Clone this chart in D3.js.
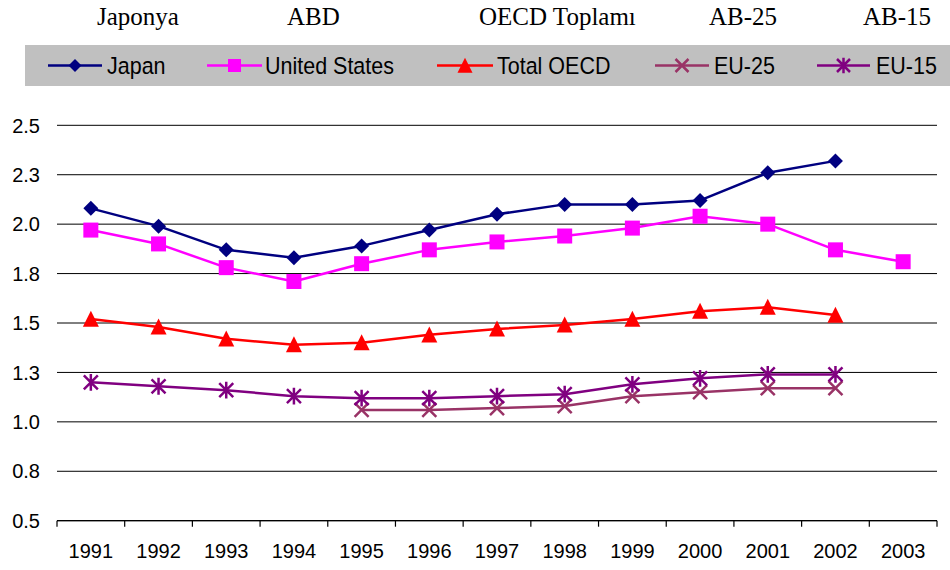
<!DOCTYPE html>
<html>
<head>
<meta charset="utf-8">
<script src="https://cdn.jsdelivr.net/npm/d3@7"></script>
<style>
  html, body { margin: 0; padding: 0; background: #fff; }
  svg { display: block; }
</style>
</head>
<body>
<svg id="chart" width="950" height="570"></svg>
<script>
const years = ["1991","1992","1993","1994","1995","1996","1997","1998","1999","2000","2001","2002","2003"];
const japan = [2.08,1.99,1.87,1.83,1.89,1.97,2.05,2.10,2.10,2.12,2.26,2.32,null];
const unitedStates = [1.97,1.90,1.78,1.71,1.80,1.87,1.91,1.94,1.98,2.04,2.00,1.87,1.81];
const totalOECD = [1.52,1.48,1.42,1.39,1.40,1.44,1.47,1.49,1.52,1.56,1.58,1.54,null];
const eu25 = [null,null,null,null,1.06,1.06,1.07,1.08,1.13,1.15,1.17,1.17,null];
const eu15 = [1.20,1.18,1.16,1.13,1.12,1.12,1.13,1.14,1.19,1.22,1.24,1.24,null];
const yTicks = [0.5,0.75,1.0,1.25,1.5,1.75,2.0,2.25,2.5];
const yTickLabels = ["0.5","0.8","1.0","1.3","1.5","1.8","2.0","2.3","2.5"];
const seriesNames = ["Japan","United States","Total OECD","EU-25","EU-15"];
const topTitles = ["Japonya","ABD","OECD Toplamı","AB-25","AB-15"];

const series = [
  {name: seriesNames[0], values: japan, color: "#000080", marker: "diamond"},
  {name: seriesNames[1], values: unitedStates, color: "#FF00FF", marker: "square"},
  {name: seriesNames[2], values: totalOECD, color: "#FF0000", marker: "triangle"},
  {name: seriesNames[3], values: eu25, color: "#993366", marker: "x"},
  {name: seriesNames[4], values: eu15, color: "#800080", marker: "star"}
];

const svg = d3.select("#chart");
const x = d3.scaleBand().domain(years).range([57, 937]);
const y = d3.scaleLinear().domain([0.5, 2.5]).range([520.7, 125.3]);

// top titles
const titleX = [97, 287, 479, 709, 863];
svg.selectAll("text.title").data(topTitles).enter().append("text")
  .attr("class","title")
  .attr("x", (d,i) => titleX[i]).attr("y", 25)
  .attr("font-family", "'Liberation Serif','Times New Roman',serif")
  .attr("font-size", 25).attr("fill", "#000")
  .text(d => d);

// legend
svg.append("rect").attr("x", 25).attr("y", 45).attr("width", 925).attr("height", 41).attr("fill", "#C0C0C0");
const legendLine = [[48,102],[207,262],[437,493],[655,709],[817,870]];
const legendText = [107,265,497,714,876];

function drawMarker(g, type, cx, cy, color, s) {
  if (type === "diamond") {
    g.append("path").attr("d", `M${cx},${cy-s}L${cx+s},${cy}L${cx},${cy+s}L${cx-s},${cy}Z`).attr("fill", color);
  } else if (type === "square") {
    g.append("rect").attr("x", cx-s).attr("y", cy-s).attr("width", 2*s).attr("height", 2*s).attr("fill", color);
  } else if (type === "triangle") {
    g.append("path").attr("d", `M${cx},${cy-s*1.05}L${cx+s},${cy+s*0.95}L${cx-s},${cy+s*0.95}Z`).attr("fill", color);
  } else if (type === "x") {
    g.append("path").attr("d", `M${cx-s},${cy-s}L${cx+s},${cy+s}M${cx-s},${cy+s}L${cx+s},${cy-s}`)
      .attr("stroke", color).attr("stroke-width", 2.5).attr("fill","none");
  } else if (type === "star") {
    g.append("path").attr("d", `M${cx-s},${cy-s}L${cx+s},${cy+s}M${cx-s},${cy+s}L${cx+s},${cy-s}M${cx},${cy-s*1.2}L${cx},${cy+s*1.2}`)
      .attr("stroke", color).attr("stroke-width", 2.5).attr("fill","none");
  }
}

const legendSizes = {diamond: 6.5, square: 6.5, triangle: 7.5, x: 6.5, star: 6.5};
series.forEach((s, i) => {
  const g = svg.append("g");
  const [x0, x1] = legendLine[i];
  g.append("line").attr("x1", x0).attr("x2", x1).attr("y1", 65.5).attr("y2", 65.5)
    .attr("stroke", s.color).attr("stroke-width", 2.5);
  drawMarker(g, s.marker, (x0+x1)/2, 65.5, s.color, legendSizes[s.marker]);
  g.append("text").attr("transform", `translate(${legendText[i]},74) scale(1,1.08)`)
    .attr("font-family", "'Liberation Sans',Arial,sans-serif").attr("font-size", 21.5).attr("fill", "#000")
    .text(s.name);
});

// gridlines
svg.append("g").selectAll("line").data(yTicks).enter().append("line")
  .attr("x1", 57).attr("x2", 937)
  .attr("y1", d => y(d)).attr("y2", d => y(d))
  .attr("stroke", "#000").attr("stroke-width", 1);

// y labels
svg.append("g").selectAll("text").data(yTicks).enter().append("text")
  .attr("x", 40).attr("y", d => y(d)).attr("dy", "0.36em")
  .attr("text-anchor", "end")
  .attr("font-family", "'Liberation Sans',Arial,sans-serif").attr("font-size", 20).attr("fill", "#000")
  .text((d,i) => yTickLabels[i]);

// x axis
const xAxis = d3.axisBottom(x).tickSize(0).tickPadding(0);
const xg = svg.append("g").attr("transform", `translate(0,${y(0.5)})`).call(xAxis);
xg.select(".domain").remove();
xg.selectAll("text").attr("y", 37).attr("dy", 0)
  .attr("font-family", "'Liberation Sans',Arial,sans-serif").attr("font-size", 20).attr("fill", "#000");
svg.append("line").attr("x1", 57).attr("x2", 937).attr("y1", y(0.5)).attr("y2", y(0.5))
  .attr("stroke", "#000").attr("stroke-width", 1.2);
const boundaries = years.map(d => x(d)).concat([x.range()[1]]);
svg.append("g").selectAll("line").data(boundaries).enter().append("line")
  .attr("x1", d => d).attr("x2", d => d).attr("y1", y(0.5)).attr("y2", y(0.5) + 6)
  .attr("stroke", "#000").attr("stroke-width", 1.2);

// series
const cx = d => x(d) + x.bandwidth()/2;
const plotSizes = {diamond: 7.5, square: 7.5, triangle: 8, x: 7, star: 7};
series.forEach(s => {
  const pts = years.map((yr, i) => ({yr, v: s.values[i]})).filter(p => p.v !== null);
  const line = d3.line().x(p => cx(p.yr)).y(p => y(p.v));
  svg.append("path").datum(pts).attr("d", line)
    .attr("fill", "none").attr("stroke", s.color).attr("stroke-width", 2.5).attr("stroke-linejoin","round");
  const g = svg.append("g");
  pts.forEach(p => drawMarker(g, s.marker, cx(p.yr), y(p.v), s.color, plotSizes[s.marker]));
});
</script>
</body>
</html>
